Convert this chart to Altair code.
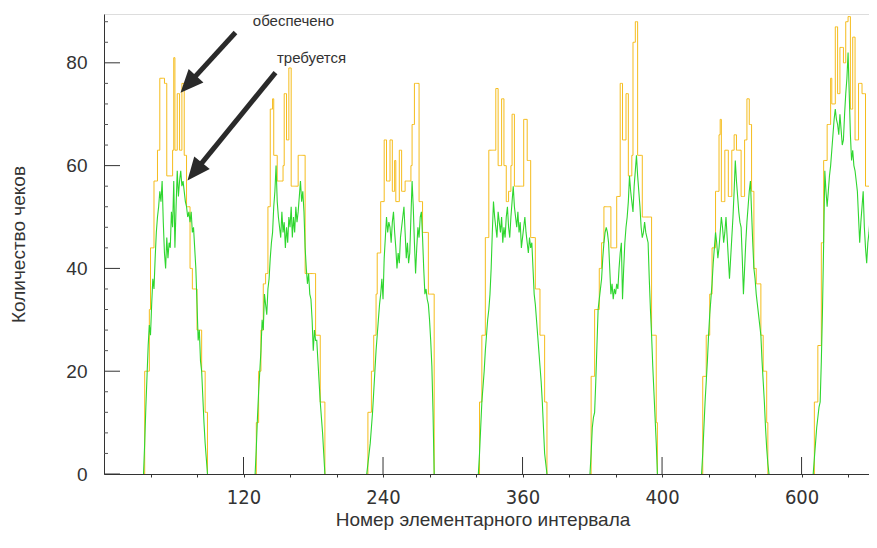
import math
import altair as alt
import pandas as pd

# ---------------- data ----------------
X_MAX = 658
Y_MAX = 89.5
DAY_LEN = 96        # elementary intervals per day
DAY_START = 34      # first working interval of a day

x_tick_values = [120, 240, 360, 480, 600]
x_tick_labels = ["120", "240", "360", "400", "600"]
y_tick_values = [0, 20, 40, 60, 80]

# "требуется" (green), one value per elementary interval, per day
required_day1 = [0, 6, 13, 19, 25, 29, 27, 33, 38, 36, 42, 47, 50, 52, 55, 53, 57, 49, 43, 40, 46, 42, 45, 44, 51, 48, 57, 44, 52, 59, 54, 57, 59, 56, 57, 55, 53, 52, 50, 51, 49, 51, 47, 48, 44, 40, 33, 26, 28, 22, 20, 15, 10, 6, 3, 0]
required_day2 = [0, 5, 11, 16, 20, 24, 30, 28, 35, 33, 31, 36, 38, 42, 45, 47, 52, 55, 60, 53, 50, 48, 46, 51, 47, 49, 44, 48, 45, 50, 48, 52, 46, 50, 47, 52, 49, 51, 54, 57, 53, 55, 51, 44, 40, 37, 39, 35, 34, 30, 24, 28, 26, 26, 22, 18, 14, 11, 8, 4, 0]
required_day3 = [0, 2, 4, 6, 9, 12, 16, 20, 24, 27, 30, 33, 35, 38, 34, 42, 46, 50, 47, 49, 48, 45, 49, 51, 47, 44, 40, 43, 41, 46, 48, 50, 52, 47, 42, 45, 41, 43, 50, 57, 52, 45, 39, 44, 48, 46, 50, 51, 46, 40, 35, 36, 34, 33, 30, 26, 21, 12, 0]
required_day4 = [0, 4, 9, 14, 17, 20, 24, 27, 30, 32, 35, 40, 47, 53, 50, 48, 46, 51, 49, 47, 50, 45, 48, 46, 50, 52, 48, 46, 50, 53, 56, 52, 50, 48, 51, 47, 49, 44, 46, 48, 50, 47, 45, 43, 46, 44, 45, 40, 35, 33, 30, 27, 24, 21, 18, 14, 9, 4, 2, 0]
required_day5 = [0, 4, 9, 11, 12, 18, 25, 32, 34, 36, 38, 42, 45, 47, 48, 47, 45, 40, 35, 37, 34, 36, 35, 37, 36, 40, 43, 45, 34, 40, 45, 48, 50, 53, 58, 55, 53, 51, 56, 59, 62, 58, 55, 52, 48, 46, 47, 49, 47, 46, 45, 38, 32, 27, 21, 16, 11, 6, 0]
required_day6 = [0, 4, 9, 14, 18, 22, 27, 31, 34, 37, 41, 44, 47, 45, 42, 44, 47, 50, 48, 45, 47, 50, 46, 42, 38, 42, 46, 50, 55, 61, 57, 54, 51, 49, 48, 42, 35, 40, 45, 49, 52, 55, 57, 51, 45, 40, 38, 35, 33, 31, 29, 27, 22, 18, 14, 9, 5, 2, 0]
required_day7 = [0, 3, 6, 9, 11, 13, 14, 22, 32, 45, 59, 55, 52, 55, 58, 60, 63, 66, 69, 71, 69, 68, 66, 70, 67, 64, 65, 70, 74, 77, 82, 74, 66, 61, 63, 60, 59, 57, 55, 50, 45, 49, 52, 55, 48, 44, 41, 45, 47, 50, 46, 42, 38, 40, 42, 40]

# "обеспечено" (yellow, stepped), per day
provided_day1 = [0, 20, 20, 20, 20, 32, 44, 44, 44, 57, 57, 57, 63, 63, 77, 77, 77, 77, 76, 76, 58, 58, 58, 58, 58, 63, 81, 63, 63, 74, 74, 63, 63, 76, 76, 62, 62, 52, 52, 52, 40, 40, 36, 36, 36, 36, 28, 28, 28, 28, 20, 20, 20, 12, 12, 0]
provided_day2 = [0, 10, 10, 20, 20, 28, 28, 37, 37, 39, 39, 52, 52, 71, 71, 73, 62, 62, 62, 57, 57, 57, 57, 57, 60, 74, 74, 65, 65, 79, 79, 56, 56, 56, 56, 56, 56, 62, 62, 62, 62, 62, 62, 39, 39, 39, 39, 39, 39, 39, 39, 39, 27, 27, 27, 27, 14, 14, 14, 14, 0]
provided_day3 = [0, 12, 12, 12, 20, 20, 27, 27, 35, 43, 43, 43, 53, 53, 53, 65, 65, 57, 57, 57, 65, 65, 55, 55, 61, 53, 53, 53, 63, 63, 55, 55, 55, 57, 57, 57, 57, 57, 60, 68, 68, 76, 76, 76, 76, 53, 53, 53, 47, 47, 47, 47, 47, 35, 35, 35, 35, 35, 0]
provided_day4 = [0, 14, 14, 27, 27, 27, 46, 46, 46, 63, 63, 63, 63, 63, 63, 75, 75, 60, 60, 60, 73, 73, 60, 60, 53, 53, 55, 55, 60, 70, 70, 56, 56, 56, 56, 56, 56, 56, 56, 69, 69, 69, 61, 61, 61, 46, 46, 46, 46, 36, 36, 36, 36, 27, 27, 27, 27, 14, 14, 0]
provided_day5 = [0, 19, 19, 19, 32, 32, 32, 32, 40, 40, 45, 45, 52, 52, 52, 52, 52, 52, 44, 44, 44, 44, 44, 54, 54, 54, 76, 76, 65, 65, 65, 74, 74, 58, 58, 58, 62, 84, 84, 88, 88, 62, 62, 62, 62, 50, 50, 50, 50, 50, 50, 50, 50, 27, 27, 27, 27, 10, 0]
provided_day6 = [0, 19, 19, 19, 27, 27, 27, 35, 35, 44, 44, 44, 55, 55, 55, 66, 69, 53, 53, 53, 63, 63, 63, 54, 54, 54, 63, 63, 66, 66, 63, 63, 63, 63, 54, 54, 54, 65, 65, 73, 73, 68, 68, 55, 55, 40, 40, 37, 37, 37, 37, 27, 27, 20, 20, 20, 10, 0, 0]
provided_day7 = [0, 14, 14, 14, 25, 25, 25, 45, 45, 61, 61, 61, 68, 68, 68, 77, 72, 72, 72, 87, 87, 74, 74, 83, 83, 83, 80, 80, 88, 88, 89, 89, 71, 71, 85, 85, 65, 65, 65, 76, 76, 76, 74, 74, 74, 56, 56, 56, 56, 56, 56, 56, 45, 45, 45, 45]

required = [required_day1, required_day2, required_day3, required_day4,
            required_day5, required_day6, required_day7]
provided = [provided_day1, provided_day2, provided_day3, provided_day4,
            provided_day5, provided_day6, provided_day7]

# annotations: label text and position (data units), arrow start / tip (data units)
ann_text = ["обеспечено", "требуется"]
ann_x = [163, 178.5]
ann_y = [88.2, 81.0]
arrow_x1 = [113.1, 147.5]
arrow_y1 = [85.9, 78.1]
arrow_x2 = [65.8, 71.8]
arrow_y2 = [74.2, 57.1]

# ---------------- layout / style ----------------
W, H = 765, 460
KX, KY = W / X_MAX, H / Y_MAX
YELLOW = "#f5bc1c"
GREEN = "#2fd62f"
DARK = "#2a2a2a"
FONT = "Liberation Sans, Arial, sans-serif"
NARROW = "Liberation Sans Narrow, DejaVu Sans Condensed, Liberation Sans, Arial, sans-serif"
HEAD_LEN = 23

prov_rows, req_rows = [], []
for d in range(len(required)):
    base = d * DAY_LEN + DAY_START
    for i, v in enumerate(provided[d]):
        prov_rows.append({"x": base + i, "y": v, "day": d})
    for i, v in enumerate(required[d]):
        req_rows.append({"x": base + i, "y": v, "day": d})
prov_df = pd.DataFrame(prov_rows)
req_df = pd.DataFrame(req_rows)

arr_rows = []
for sx, sy, tx, ty in zip(arrow_x1, arrow_y1, arrow_x2, arrow_y2):
    dxp = (tx - sx) * KX
    dyp = -(ty - sy) * KY
    length = math.hypot(dxp, dyp)
    ang = math.degrees(math.atan2(dxp, -dyp)) % 360
    f = (HEAD_LEN - 4) / length
    ex, ey = tx + (sx - tx) * f, ty + (sy - ty) * f
    arr_rows.append({"x": sx, "y": sy, "ex": ex, "ey": ey, "tx": tx, "ty": ty, "angle": ang})
arr_df = pd.DataFrame(arr_rows)
ann_df = pd.DataFrame({"text": ann_text, "x": ann_x, "y": ann_y})

xs = alt.Scale(domain=[0, X_MAX], nice=False, zero=False)
ys = alt.Scale(domain=[0, Y_MAX], nice=False, zero=False)

label_expr = "''"
for v, l in reversed(list(zip(x_tick_values, x_tick_labels))):
    label_expr = f"datum.value == {v} ? '{l}' : ({label_expr})"

x_axis = alt.Axis(
    values=list(range(40, X_MAX + 1, 40)), labelExpr=label_expr, grid=False,
    tickSize=3, tickColor="#333", domainColor="#333",
    labelFont=NARROW, labelFontSize=20, labelColor="#333", labelPadding=10,
    labelOverlap=False,
    title="Номер элементарного интервала", titleFont=FONT, titleFontSize=19,
    titleFontWeight="normal", titleColor="#333", titleX=W / 2 - 4, titleY=45,
    titleBaseline="middle",
)
y_axis = alt.Axis(
    values=y_tick_values, grid=False, ticks=False, domainColor="#333",
    labelFont=FONT, labelFontSize=19, labelColor="#333", labelPadding=17,
    title="Количество чеков", titleFont=FONT, titleFontSize=19,
    titleFontWeight="normal", titleColor="#333", titleX=-86, titleY=H / 2,
    titleAngle=270, titleAlign="center", titleBaseline="middle",
)


def X(field):
    return alt.X(field, scale=xs, axis=x_axis)


def Y(field):
    return alt.Y(field, scale=ys, axis=y_axis)


yellow = alt.Chart(prov_df).mark_line(
    interpolate="step-after", color=YELLOW, strokeWidth=1, clip=True
).encode(x=X("x:Q"), y=Y("y:Q"), detail="day:N")

green = alt.Chart(req_df).mark_line(color=GREEN, strokeWidth=1.1, clip=True).encode(
    x=X("x:Q"), y=Y("y:Q"), detail="day:N"
)

ymaj = alt.Chart(pd.DataFrame({"y": y_tick_values})).mark_rule(color="#333").encode(
    y=Y("y:Q"), x=alt.value(0), x2=alt.value(16)
)
ymin = alt.Chart(pd.DataFrame({"y": [v for v in range(4, 89, 4) if v % 20]})).mark_rule(
    color="#555").encode(y=Y("y:Q"), x=alt.value(0), x2=alt.value(4))
xmaj = alt.Chart(pd.DataFrame({"x": x_tick_values})).mark_rule(color="#333").encode(
    x=X("x:Q"), y=alt.value(H - 17), y2=alt.value(H)
)

shafts = alt.Chart(arr_df).mark_rule(color=DARK, strokeWidth=5).encode(
    x=X("x:Q"), y=Y("y:Q"), x2="ex:Q", y2="ey:Q",
)
heads = alt.Chart(arr_df).mark_point(
    shape="M0,0 L0.87,2 L-0.87,2 Z", filled=True, size=529, color=DARK, opacity=1
).transform_calculate(px="datum.tx", py="datum.ty").encode(
    x=X("px:Q"), y=Y("py:Q"),
    angle=alt.Angle("angle:Q", scale=None),
)
labels = alt.Chart(ann_df).mark_text(
    font=FONT, fontSize=15, color="#333", align="center", baseline="middle"
).encode(x=X("x:Q"), y=Y("y:Q"), text="text:N")

chart = alt.layer(yellow, green, ymaj, ymin, xmaj, shafts, heads, labels).properties(
    width=W, height=H,
    autosize=alt.AutoSizeParams(type="none"),
    padding={"left": 96, "top": 6, "right": 0, "bottom": 60},
).configure_view(stroke="#666", strokeWidth=1).configure(background="white")

chart.save("out.html", embed_options={"renderer": "svg", "actions": False})
